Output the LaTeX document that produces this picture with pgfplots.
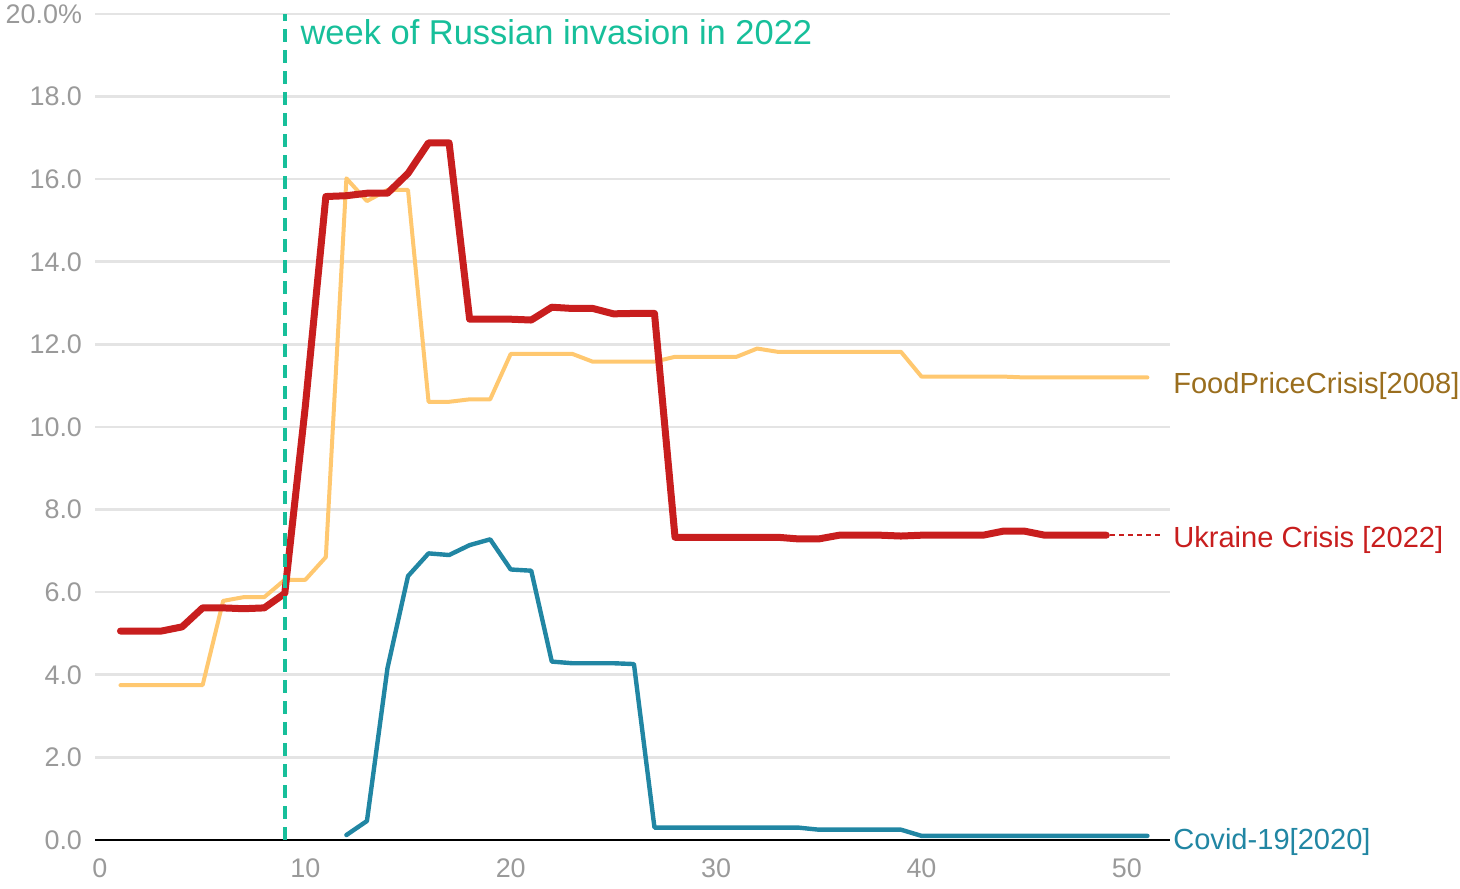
\documentclass[border=0pt]{standalone}
\usepackage{pgfplots}
\pgfplotsset{compat=1.18}
\usepackage{fontspec}
\setmainfont{Liberation Sans}

\definecolor{ukred}{HTML}{C81E1E}
\definecolor{foodyel}{HTML}{FFC870}
\definecolor{covblue}{HTML}{2186A3}
\definecolor{invteal}{HTML}{17BF9A}
\definecolor{foodtxt}{HTML}{9A6E1E}
\definecolor{gridgray}{HTML}{E4E4E4}
\definecolor{tickgray}{HTML}{9A9A9A}

\begin{document}
\begin{tikzpicture}
\useasboundingbox (-47.5bp,-24.5bp) rectangle (682.5bp,420bp);
\begin{axis}[
  at={(0,0)}, anchor=south west,
  scale only axis, width=537.5bp, height=413bp,
  xmin=-0.24, xmax=52.1, ymin=0, ymax=20,
  axis line style={draw=none},
  xtick={0,10,...,50},
  ytick={0,2,...,20},
  yticklabels={0.0,2.0,4.0,6.0,8.0,10.0,12.0,14.0,16.0,18.0,20.0\%},
  major tick length=0pt,
  ymajorgrids,
  grid style={color=gridgray, line width=1.3bp},
  tick label style={font=\fontsize{13.5}{15}\selectfont, text=tickgray},
  yticklabel style={xshift=-3bp},
  xticklabel style={yshift=-6bp},
  /pgf/number format/assume math mode=true,
  clip=false,
]

% FoodPriceCrisis[2008]
\addplot[foodyel, line width=2bp, line join=round, line cap=round] coordinates {
(1,3.75)(2,3.75)(3,3.75)(4,3.75)(5,3.75)(6,5.79)(7,5.88)(8,5.88)(9,6.30)(10,6.30)
(11,6.85)(12,16.02)(13,15.47)(14,15.74)(15,15.74)(16,10.61)(17,10.61)(18,10.67)(19,10.67)(20,11.77)
(21,11.77)(22,11.77)(23,11.77)(24,11.58)(25,11.58)(26,11.58)(27,11.58)(28,11.70)(29,11.70)(30,11.70)
(31,11.70)(32,11.90)(33,11.82)(34,11.82)(35,11.82)(36,11.82)(37,11.82)(38,11.82)(39,11.82)(40,11.22)
(41,11.22)(42,11.22)(43,11.22)(44,11.22)(45,11.20)(46,11.20)(47,11.20)(48,11.20)(49,11.20)(50,11.20)(51,11.20)
};

% Covid-19[2020]
\addplot[covblue, line width=2.2bp, line join=round, line cap=round] coordinates {
(12,0.12)(13,0.46)(14,4.16)(15,6.39)(16,6.94)(17,6.90)(18,7.14)(19,7.28)(20,6.55)
(21,6.52)(22,4.32)(23,4.28)(24,4.28)(25,4.28)(26,4.26)(27,0.30)(28,0.30)(29,0.30)(30,0.30)
(31,0.30)(32,0.30)(33,0.30)(34,0.30)(35,0.25)(36,0.25)(37,0.25)(38,0.25)(39,0.25)(40,0.10)
(41,0.10)(42,0.10)(43,0.10)(44,0.10)(45,0.10)(46,0.10)(47,0.10)(48,0.10)(49,0.10)(50,0.10)(51,0.10)
};

% Ukraine Crisis [2022]
\addplot[ukred, line width=3.5bp, line join=round, line cap=round] coordinates {
(1,5.06)(2,5.06)(3,5.06)(4,5.16)(5,5.62)(6,5.62)(7,5.60)(8,5.62)(9,5.97)(10,10.5)
(11,15.58)(12,15.60)(13,15.66)(14,15.66)(15,16.14)(16,16.88)(17,16.88)(18,12.61)(19,12.61)(20,12.61)
(21,12.59)(22,12.90)(23,12.87)(24,12.87)(25,12.74)(26,12.75)(27,12.75)(28,7.33)(29,7.33)(30,7.33)
(31,7.33)(32,7.33)(33,7.33)(34,7.29)(35,7.29)(36,7.38)(37,7.38)(38,7.38)(39,7.36)(40,7.38)
(41,7.38)(42,7.38)(43,7.38)(44,7.48)(45,7.48)(46,7.38)(47,7.38)(48,7.38)(49,7.38)
};

% x axis line
\draw[black, line width=1.1bp] (axis cs:-0.24,0) -- (axis cs:52.1,0);

% invasion week marker
\draw[invteal, line width=2bp, dash pattern=on 6.5bp off 4bp] (axis cs:9,0) -- (axis cs:9,20);
\node[anchor=west, inner sep=0pt, text=invteal, font=\fontsize{17.3}{19}\selectfont]
  at (axis cs:9.75,19.55) {week of Russian invasion in 2022};

% series labels
\draw[ukred, line width=1bp, dash pattern=on 2.5bp off 2bp] (axis cs:49.2,7.38) -- (axis cs:51.65,7.38);
\node[anchor=west, inner sep=0pt, text=foodtxt, font=\fontsize{14.6}{17}\selectfont]
  at (axis cs:52.24,11.0) {FoodPriceCrisis[2008]};
\node[anchor=west, inner sep=0pt, text=ukred, font=\fontsize{14.6}{17}\selectfont]
  at (axis cs:52.24,7.26) {Ukraine Crisis [2022]};
\node[anchor=west, inner sep=0pt, text=covblue, font=\fontsize{14.6}{17}\selectfont]
  at (axis cs:52.24,-0.05) {Covid-19[2020]};
\end{axis}
\end{tikzpicture}
\end{document}
